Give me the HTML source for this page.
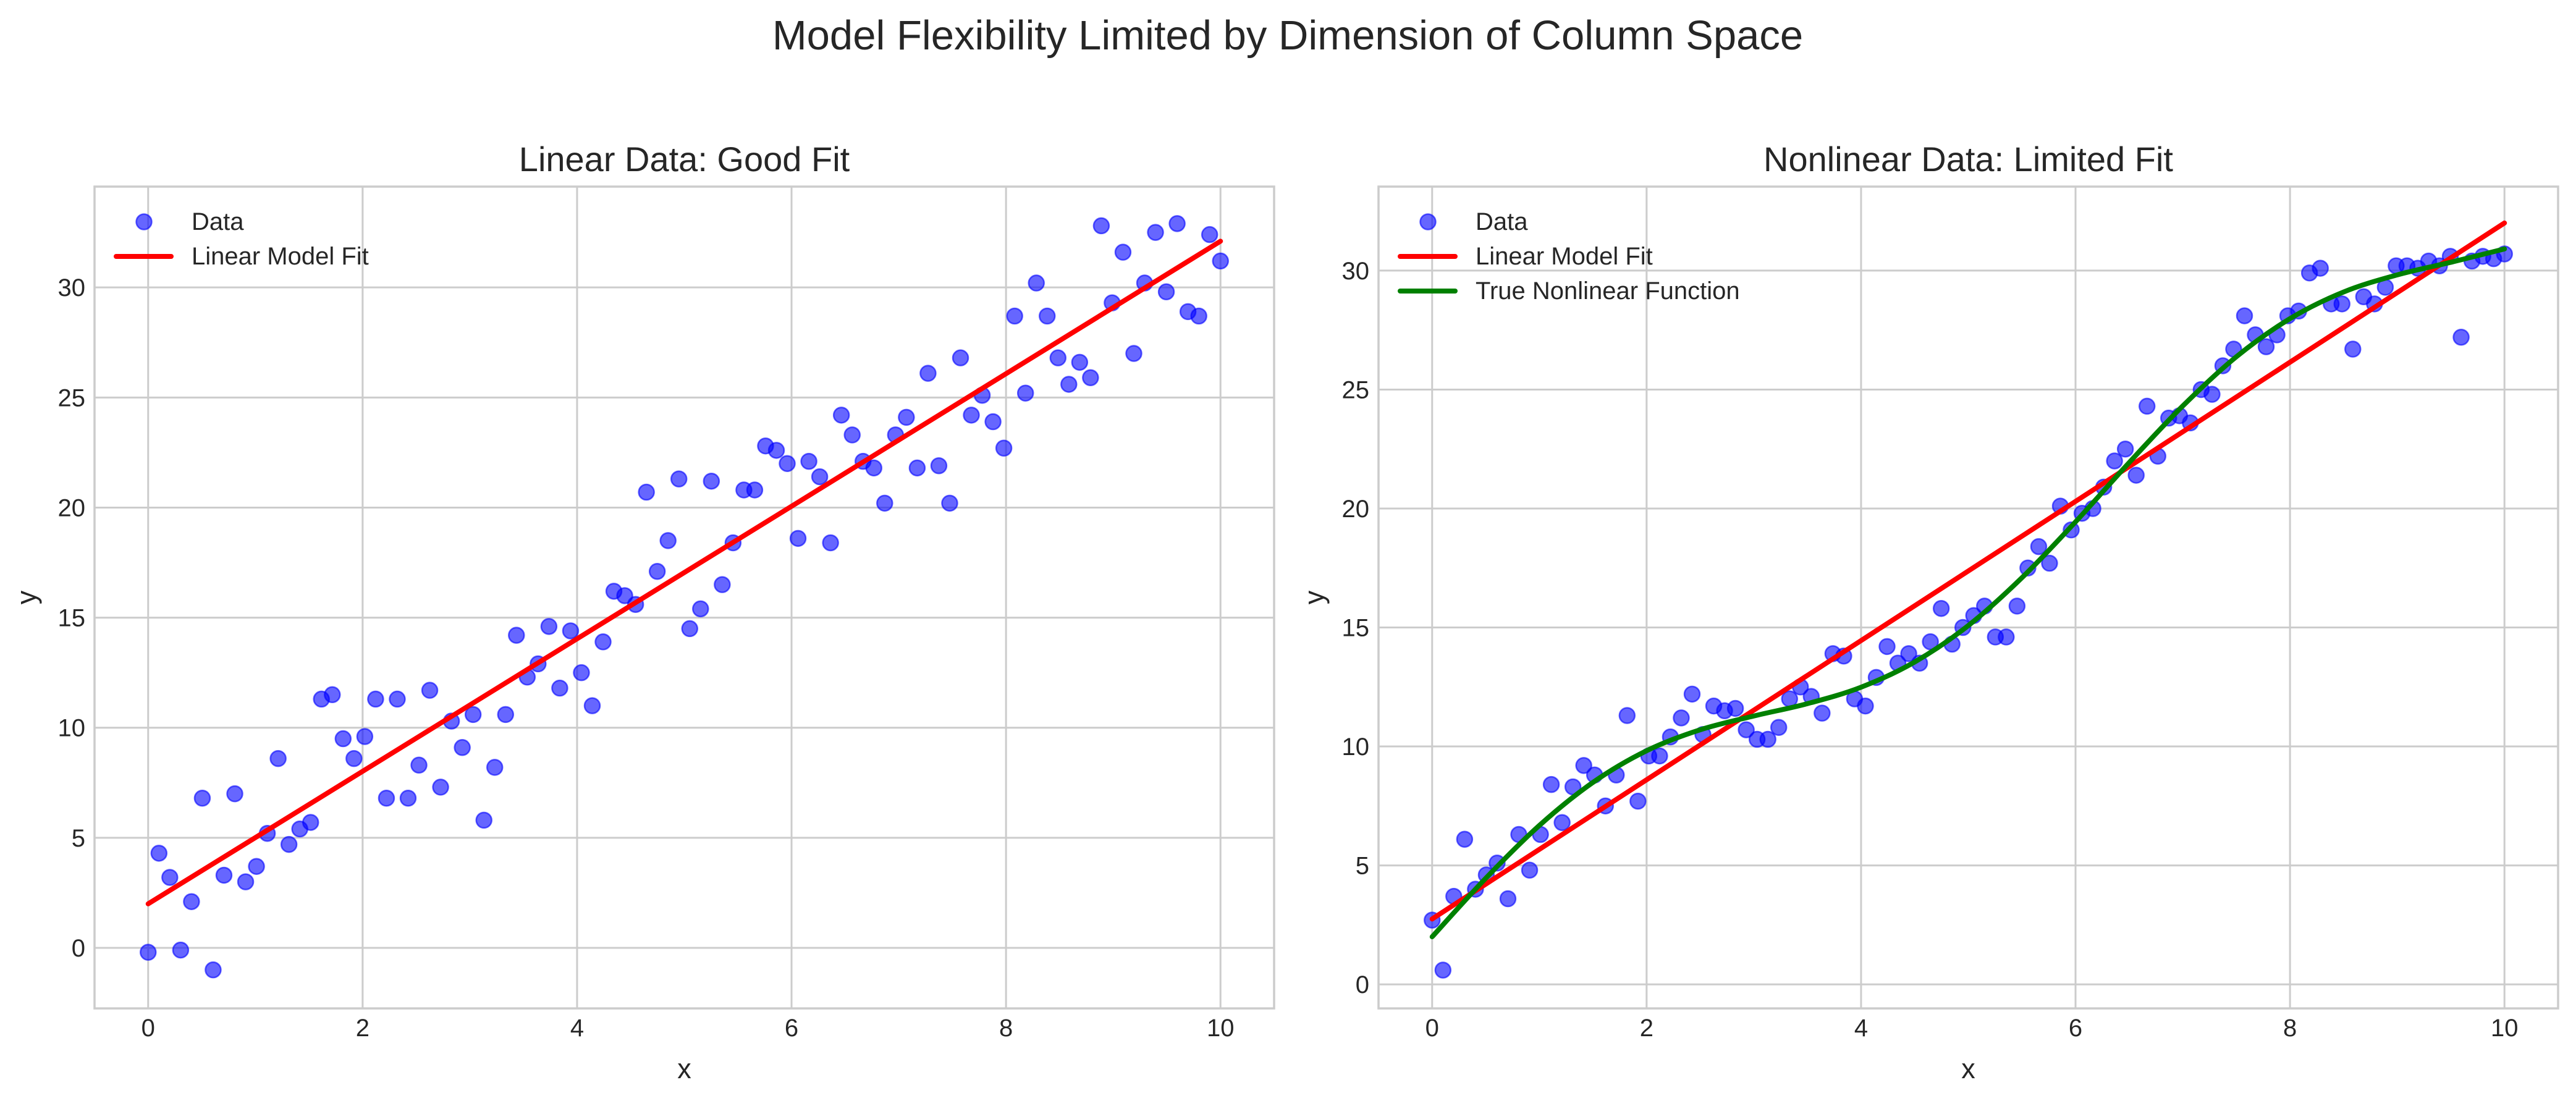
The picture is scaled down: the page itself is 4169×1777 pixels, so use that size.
<!DOCTYPE html>
<html><head><meta charset="utf-8"><style>
html,body{margin:0;padding:0;background:#fff}
svg{display:block;font-family:"Liberation Sans",Arial,sans-serif}
</style></head><body>
<svg id="fig" width="4169" height="1777" viewBox="0 0 4169 1777" xmlns="http://www.w3.org/2000/svg">
<rect width="4169" height="1777" fill="#fff"/>
<text x="2084" y="80" font-size="67" text-anchor="middle" fill="#262626">Model Flexibility Limited by Dimension of Column Space</text>
</svg>
<script>
const leftY = [-0.2,4.3,3.2,-0.1,2.1,6.8,-1.0,3.3,7.0,3.0,3.7,5.2,8.6,4.7,5.4,5.7,11.3,11.5,9.5,8.6,9.6,11.3,6.8,11.3,6.8,8.3,11.7,7.3,10.3,9.1,10.6,5.8,8.2,10.6,14.2,12.3,12.9,14.6,11.8,14.4,12.5,11.0,13.9,16.2,16.0,15.6,20.7,17.1,18.5,21.3,14.5,15.4,21.2,16.5,18.4,20.8,20.8,22.8,22.6,22.0,18.6,22.1,21.4,18.4,24.2,23.3,22.1,21.8,20.2,23.3,24.1,21.8,26.1,21.9,20.2,26.8,24.2,25.1,23.9,22.7,28.7,25.2,30.2,28.7,26.8,25.6,26.6,25.9,32.8,29.3,31.6,27.0,30.2,32.5,29.8,32.9,28.9,28.7,32.4,31.2];
const rightY = [2.7,0.6,3.7,6.1,4.0,4.6,5.1,3.6,6.3,4.8,6.3,8.4,6.8,8.3,9.2,8.8,7.5,8.8,11.3,7.7,9.6,9.6,10.4,11.2,12.2,10.5,11.7,11.5,11.6,10.7,10.3,10.3,10.8,12.0,12.5,12.1,11.4,13.9,13.8,12.0,11.7,12.9,14.2,13.5,13.9,13.5,14.4,15.8,14.3,15.0,15.5,15.9,14.6,14.6,15.9,17.5,18.4,17.7,20.1,19.1,19.8,20.0,20.9,22.0,22.5,21.4,24.3,22.2,23.8,23.9,23.6,25.0,24.8,26.0,26.7,28.1,27.3,26.8,27.3,28.1,28.3,29.9,30.1,28.6,28.6,26.7,28.9,28.6,29.3,30.2,30.2,30.1,30.4,30.2,30.6,27.2,30.4,30.6,30.5,30.7];
const leftFit = [2.0, 32.1];
const rightFit = [2.75, 32.0];
const trueX = [0,0.5,1,1.5,2,2.5,3,3.5,4,4.5,5,5.5,6,6.5,7,7.5,8,8.5,9,9.5,10];
const trueY = [2.00,4.46,6.68,8.49,9.82,10.70,11.28,11.80,12.49,13.55,15.08,17.09,19.44,21.93,24.31,26.38,27.98,29.10,29.82,30.35,30.91];
const xTicks = [0,2,4,6,8,10];
const leftYTicks = [0,5,10,15,20,25,30];
const rightYTicks = [0,5,10,15,20,25,30];

const NS='http://www.w3.org/2000/svg';
const svg=document.getElementById('fig');
function mk(tag,attrs,parent){const e=document.createElementNS(NS,tag);for(const k in attrs)e.setAttribute(k,attrs[k]);(parent||svg).appendChild(e);return e;}

function panel(cfg){
  const g=mk('g',{});
  
  
  const L=cfg.left,T=302,R=cfg.left+1909,B=1632;
  const sx=v=>L+(v-(-0.5))/11*(R-L);
  const sy=v=>B-(v-cfg.ymin)/(cfg.ymax-cfg.ymin)*(B-T);
  // grid
  xTicks.forEach(t=>{
    const l=mk('line',{x1:sx(t),x2:sx(t),y1:T,y2:B,stroke:'#cccccc','stroke-width':3},g);
    
    
    const tx=mk('text',{x:sx(t),y:1677,'font-size':40,'text-anchor':'middle',fill:'#262626'},g);
    
    
    tx.textContent=t;
  });
  cfg.yticks.forEach(t=>{
    const l=mk('line',{x1:L,x2:R,y1:sy(t),y2:sy(t),stroke:'#cccccc','stroke-width':3},g);
    
    
    const tx=mk('text',{x:L-15,y:sy(t)+14,'font-size':40,'text-anchor':'end',fill:'#262626'},g);
    
    
    tx.textContent=t;
  });
  // scatter
  const n=cfg.data.length;
  cfg.data.forEach((v,i)=>{
    const x=i*10/(n-1);
    const c=mk('circle',{cx:sx(x),cy:sy(v),r:12.5,fill:'rgba(0,0,255,0.6)',stroke:'rgba(0,0,255,0.6)','stroke-width':2.5},g);
    
    
  });
  // fit
  const f=mk('line',{x1:sx(0),y1:sy(cfg.fit[0]),x2:sx(10),y2:sy(cfg.fit[1]),stroke:'#ff0000','stroke-width':8,'stroke-linecap':'round'},g);
  
  
  if(cfg.curve){
    const px=trueX.map(sx),py=trueY.map(sy);
    let d='M'+px[0]+','+py[0];
    for(let i=0;i<px.length-1;i++){
      const x0=px[Math.max(i-1,0)],y0=py[Math.max(i-1,0)],x3=px[Math.min(i+2,px.length-1)],y3=py[Math.min(i+2,px.length-1)];
      const c1x=px[i]+(px[i+1]-x0)/6,c1y=py[i]+(py[i+1]-y0)/6,c2x=px[i+1]-(x3-px[i])/6,c2y=py[i+1]-(y3-py[i])/6;
      d+=' C'+c1x+','+c1y+' '+c2x+','+c2y+' '+px[i+1]+','+py[i+1];
    }
    const p=mk('path',{d:d,fill:'none',stroke:'#008000','stroke-width':8,'stroke-linecap':'round'},g);
    
    
  }
  // frame
  const fr=mk('rect',{x:L,y:T,width:R-L,height:B-T,fill:'none',stroke:'#cccccc','stroke-width':3.5},g);
  
  
  // titles
  const ti=mk('text',{x:(L+R)/2,y:277,'font-size':56,'text-anchor':'middle',fill:'#262626'},g);
  
  
  ti.textContent=cfg.title;
  const xl=mk('text',{x:(L+R)/2,y:1745,'font-size':45,'text-anchor':'middle',fill:'#262626'},g);
  
  
  xl.textContent='x';
  const yx=cfg.ylabX;
  const yl=mk('text',{x:yx,y:(T+B)/2,'font-size':45,'text-anchor':'middle',fill:'#262626',transform:'rotate(-90 '+yx+' '+((T+B)/2)+')'},g);
  
  
  yl.textContent='y';
  // legend
  const lg=mk('g',{},g);
  
  
  const lc=mk('circle',{cx:L+80,cy:359,r:12.5,fill:'rgba(0,0,255,0.6)',stroke:'rgba(0,0,255,0.6)','stroke-width':2.5},lg);
  
  
  const entries=[['Data',null],['Linear Model Fit','#ff0000']];
  if(cfg.curve)entries.push(['True Nonlinear Function','#008000']);
  entries.forEach((e,i)=>{
    const y=359+i*56;
    if(e[1]){
      const ll=mk('line',{x1:L+35,x2:L+124,y1:y+54-56+2,y2:y+54-56+2,stroke:e[1],'stroke-width':8,'stroke-linecap':'round'},lg);
      ll.setAttribute('y1',y);ll.setAttribute('y2',y);
      
      
    }
    const t=mk('text',{x:L+157,y:y+13,'font-size':40,fill:'#262626'},lg);
    
    
    t.textContent=e[0];
  });
}
panel({name:'left-panel',left:153,ymin:-2.75,ymax:34.58,yticks:leftYTicks,data:leftY,fit:leftFit,curve:false,title:'Linear Data: Good Fit',ylabX:58});
panel({name:'right-panel',left:2231,ymin:-1.01,ymax:33.53,yticks:rightYTicks,data:rightY,fit:rightFit,curve:true,title:'Nonlinear Data: Limited Fit',ylabX:2142});
</script>
</body></html>
